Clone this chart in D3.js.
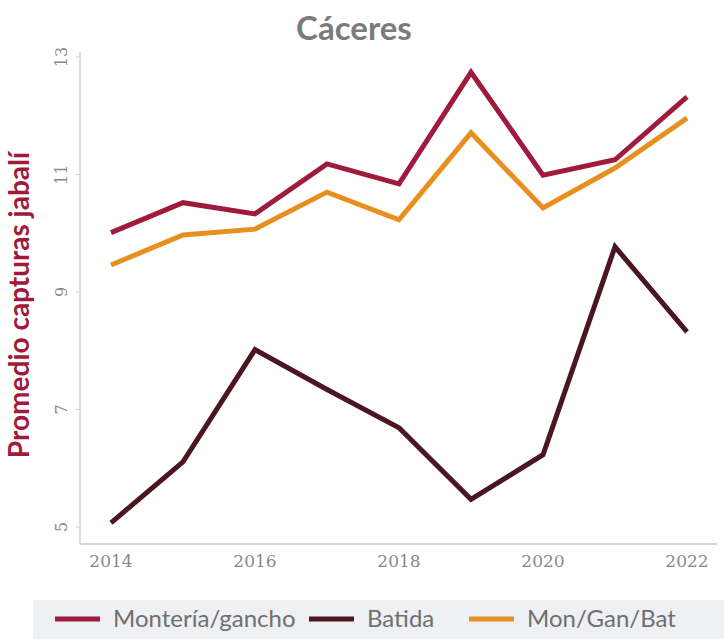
<!DOCTYPE html>
<html lang="es">
<head>
  <meta charset="UTF-8">
  <title>Cáceres</title>
  <script src="https://d3js.org/d3.v7.min.js"></script>
  <style>
    body { margin: 0; background: #fff; font-family: Lato, "Open Sans", sans-serif; }
    svg { display: block; }
  </style>
</head>
<body>
  <svg width="724" height="639"></svg>

  <script>
    // Data
    const years = [2014, 2015, 2016, 2017, 2018, 2019, 2020, 2021, 2022];
    const monteria = [10.01, 10.52, 10.33, 11.18, 10.84, 12.74, 10.99, 11.25, 12.32];
    const batida = [5.07, 6.11, 8.02, 7.34, 6.69, 5.47, 6.23, 9.77, 8.32];
    const monGanBat = [9.46, 9.97, 10.07, 10.70, 10.23, 11.71, 10.43, 11.11, 11.96];
    const xTicks = [2014, 2016, 2018, 2020, 2022];
    const yTicks = [5, 7, 9, 11, 13];
    const seriesNames = ["Montería/gancho", "Batida", "Mon/Gan/Bat"];

    const colors = ["#a01a3b", "#4b1522", "#e8901f"];
    const seriesValues = [monteria, batida, monGanBat];

    const svg = d3.select("svg");

    const x = d3.scaleLinear().domain([2014, 2022]).range([111, 687]);
    const y = d3.scaleLinear().domain([5, 13]).range([527, 57]);

    // axes lines
    svg.append("line")
      .attr("x1", 80).attr("x2", 80).attr("y1", 52).attr("y2", 544)
      .attr("stroke", "#d4d4d4").attr("stroke-width", 1.5);
    svg.append("line")
      .attr("x1", 80).attr("x2", 717).attr("y1", 544).attr("y2", 544)
      .attr("stroke", "#c8c8c8").attr("stroke-width", 1.5);

    // y ticks + labels
    const yAxis = svg.append("g");
    yAxis.selectAll("line.tick")
      .data(yTicks).enter().append("line")
      .attr("x1", 76).attr("x2", 80)
      .attr("y1", d => y(d)).attr("y2", d => y(d))
      .attr("stroke", "#d0d0d0");
    yAxis.selectAll("text")
      .data(yTicks).enter().append("text")
      .attr("transform", d => `translate(67,${y(d)}) rotate(-90)`)
      .attr("text-anchor", "middle")
      .attr("font-family", "'DejaVu Serif', serif")
      .attr("font-size", 16)
      .attr("fill", "#8a8a8a")
      .text(d => d);

    // x labels
    svg.append("g").selectAll("text")
      .data(xTicks).enter().append("text")
      .attr("x", d => x(d))
      .attr("y", 567)
      .attr("text-anchor", "middle")
      .attr("font-family", "'DejaVu Serif', serif")
      .attr("font-size", 17)
      .attr("fill", "#8a8a8a")
      .text(d => d);

    // lines
    const line = d3.line()
      .x((d, i) => x(years[i]))
      .y(d => y(d));

    // draw order: batida, mon/gan/bat, monteria on top
    [1, 2, 0].forEach(k => {
      svg.append("path")
        .datum(seriesValues[k])
        .attr("fill", "none")
        .attr("stroke", colors[k])
        .attr("stroke-width", 5)
        .attr("stroke-linejoin", "miter")
        .attr("d", line);
    });

    // title
    svg.append("text")
      .attr("x", 354).attr("y", 40)
      .attr("text-anchor", "middle")
      .attr("font-size", 33)
      .attr("font-weight", "bold")
      .attr("fill", "#7b7b7b")
      .text("Cáceres");

    // y title
    svg.append("text")
      .attr("transform", "translate(29,305) rotate(-90)")
      .attr("text-anchor", "middle")
      .attr("font-size", 28)
      .attr("font-weight", "bold")
      .attr("fill", "#a01a3b")
      .text("Promedio capturas jabalí");

    // legend
    svg.append("rect")
      .attr("x", 33).attr("y", 600).attr("width", 691).attr("height", 39)
      .attr("fill", "#eef0f3");

    const legendX = [55, 309, 469];
    const legend = svg.append("g").selectAll("g")
      .data(seriesNames).enter().append("g")
      .attr("transform", (d, i) => `translate(${legendX[i]},619)`);
    legend.append("line")
      .attr("x1", 0).attr("x2", 45)
      .attr("stroke", (d, i) => colors[i])
      .attr("stroke-width", 5);
    legend.append("text")
      .attr("x", 58).attr("y", 8)
      .attr("font-size", 24)
      .attr("fill", "#6f6f6f")
      .text(d => d);
  </script>
</body>
</html>
